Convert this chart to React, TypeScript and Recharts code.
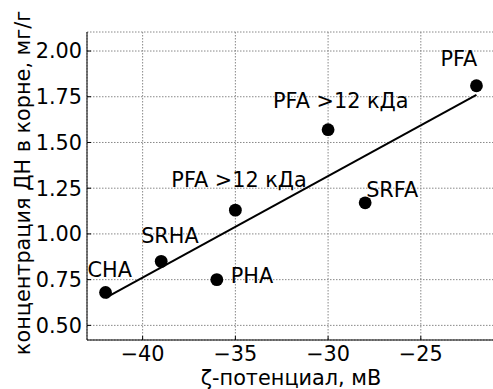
import { ComposedChart, Scatter, XAxis, YAxis, CartesianGrid } from 'recharts'

const samples = ['CHA', 'SRHA', 'PHA', 'PFA >12 кДа', 'PFA >12 кДа', 'SRFA', 'PFA']
const zeta = [-42, -39, -36, -35, -30, -28, -22]
const conc = [0.68, 0.85, 0.75, 1.13, 1.57, 1.17, 1.81]

// linear fit endpoints
const fitZeta = [-42, -22]
const fitConc = [0.65, 1.76]

const xTicks = [-40, -35, -30, -25]
const yTicks = [0.5, 0.75, 1.0, 1.25, 1.5, 1.75, 2.0]

// label placement relative to each marker (text left, baseline)
const LABEL_DX = [-18, -20, 14, -64, -55, 1, -36]
const LABEL_DY = [-15, -18, 3, -23, -22, -6, -20]

const FONT = 'DejaVu Sans, Verdana, sans-serif'
const FS = 20.8

const points = samples.map((name, i) => ({ name, x: zeta[i], y: conc[i], i }))
const fit = fitZeta.map((x, i) => ({ x, y: fitConc[i] }))

const fmtMinus = (v: number) => (v < 0 ? `\u2212${Math.abs(v)}` : `${v}`)

function Marker(props: any) {
  const { cx, cy, payload } = props
  const i = payload.i
  return (
    <g>
      <circle cx={cx} cy={cy} r={6.4} fill="#000" />
      <text x={cx + LABEL_DX[i]} y={cy + LABEL_DY[i]} fontSize={FS} fontFamily={FONT} fill="#000">
        {payload.name}
      </text>
    </g>
  )
}

export default function App() {
  const tickStyle = { fontSize: FS, fontFamily: FONT, fill: '#000' }
  return (
    <div style={{ position: 'absolute', left: 0, top: 0, width: 493, height: 389, overflow: 'hidden', background: '#fff' }}>
      <ComposedChart width={496} height={389} margin={{ top: 32, right: 1, bottom: 0, left: 0 }}>
        <CartesianGrid stroke="#888" strokeDasharray="1.5 1.5" strokeWidth={1} />
        <XAxis
          type="number"
          dataKey="x"
          domain={[-43, -21]}
          ticks={xTicks}
          allowDataOverflow
          height={49}
          tickSize={-4}
          tickMargin={10}
          tickFormatter={fmtMinus}
          tick={tickStyle}
          stroke="#000"
          tickLine={{ stroke: '#000' }}
          label={{ value: 'ζ-потенциал, мВ', position: 'insideBottom', offset: 4, style: { fontSize: FS, fontFamily: FONT, fill: '#000' } }}
        />
        <XAxis
          xAxisId="top"
          orientation="top"
          type="number"
          dataKey="x"
          domain={[-43, -21]}
          ticks={xTicks}
          allowDataOverflow
          height={0}
          tickSize={-4}
          tick={() => <g />}
          stroke="#000"
          tickLine={{ stroke: '#000' }}
        />
        <YAxis
          type="number"
          dataKey="y"
          domain={[0.42, 2.104]}
          ticks={yTicks}
          allowDataOverflow
          width={87}
          tickSize={-4}
          tickMargin={9}
          tickFormatter={(v: number) => v.toFixed(2)}
          tick={tickStyle}
          stroke="#000"
          tickLine={{ stroke: '#000' }}
          label={() => (
            <text
              x={30}
              y={183}
              transform="rotate(-90, 30, 183)"
              textAnchor="middle"
              fontSize={FS}
              fontFamily={FONT}
              fill="#000"
            >
              концентрация ДН в корне, мг/г
            </text>
          )}
        />
        <Scatter
          data={fit}
          line={{ stroke: '#000', strokeWidth: 2 }}
          shape={() => <g />}
          isAnimationActive={false}
        />
        <Scatter data={points} shape={Marker} isAnimationActive={false} />
      </ComposedChart>
    </div>
  )
}
